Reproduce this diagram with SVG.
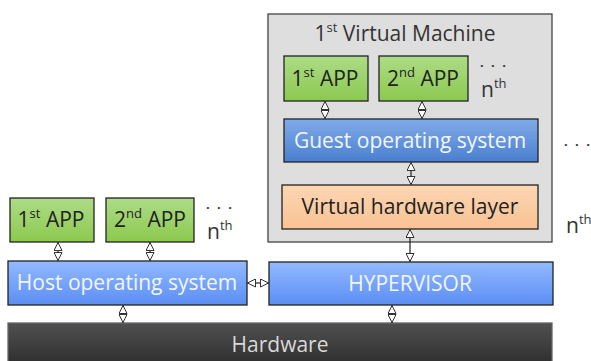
<svg xmlns="http://www.w3.org/2000/svg" width="591" height="361" viewBox="0 0 591 361">
<defs>
<linearGradient id="gGreen" x1="0" y1="0" x2="0" y2="1"><stop offset="0" stop-color="#addc87"/><stop offset="1" stop-color="#8cc94f"/></linearGradient>
<linearGradient id="gBlue" x1="0" y1="0" x2="0" y2="1"><stop offset="0" stop-color="#93b9ff"/><stop offset="1" stop-color="#5b8ef4"/></linearGradient>
<linearGradient id="gGuest" x1="0" y1="0" x2="0" y2="1"><stop offset="0" stop-color="#80abe8"/><stop offset="1" stop-color="#4a7fcf"/></linearGradient>
<linearGradient id="gPeach" x1="0" y1="0" x2="0" y2="1"><stop offset="0" stop-color="#fcd6b3"/><stop offset="1" stop-color="#f9c293"/></linearGradient>
<linearGradient id="gHw" x1="0" y1="0" x2="0" y2="1"><stop offset="0" stop-color="#505050"/><stop offset="1" stop-color="#2c2c2c"/></linearGradient>
<marker id="ah" viewBox="0 0 9 9" refX="9" refY="4.5" markerWidth="9" markerHeight="9" markerUnits="userSpaceOnUse" orient="auto-start-reverse">
<path d="M0.5,0.5 L8.5,4.5 L0.5,8.5 Z" fill="#fff" stroke="#333" stroke-width="1"/>
</marker>
</defs>
<style>
.box{stroke:#222;stroke-width:1.3}
text{font-family:"Open Sans","Liberation Sans",sans-serif}
.t{font-size:21px;text-anchor:middle}
.dark{fill:#222}
.light{fill:#f2f6ff}
.sup{font-size:13px}
.dots{font-size:13px;font-weight:bold;fill:#333;letter-spacing:2px}
.conn line{stroke:#222;stroke-width:1.2;marker-start:url(#ah);marker-end:url(#ah)}
</style>
<g id="vm">
<rect x="268" y="14" width="284" height="228" fill="#dedede" stroke="#444" stroke-width="1.3"/>
<text x="405" y="41" class="t" fill="#333">1<tspan class="sup" dy="-9">st</tspan><tspan dy="9"> Virtual Machine</tspan></text>
</g>
<g id="hardware">
<rect x="8" y="323" width="544" height="45" fill="url(#gHw)" stroke="#666" stroke-width="1.3"/>
<text x="280" y="352" class="t" fill="#d8d8d8">Hardware</text>
</g>
<g id="host-app1">
<rect x="10" y="198" width="84" height="44" class="box" fill="url(#gGreen)"/>
<text x="51" y="227" class="t dark">1<tspan class="sup" dy="-9">st</tspan><tspan dy="9"> APP</tspan></text>
</g>
<g id="host-app2">
<rect x="106" y="198" width="88" height="44" class="box" fill="url(#gGreen)"/>
<text x="150" y="227" class="t dark">2<tspan class="sup" dy="-9">nd</tspan><tspan dy="9"> APP</tspan></text>
</g>
<g id="host-nth">
<text x="206" y="209" class="dots">. . .</text>
<text x="207" y="239" font-size="21" fill="#333">n<tspan class="sup" dy="-9">th</tspan></text>
</g>
<g id="host-os">
<rect x="8" y="261" width="239" height="44" class="box" fill="url(#gBlue)"/>
<text x="127" y="290" class="t light">Host operating system</text>
</g>
<g id="hypervisor">
<rect x="269" y="262" width="284" height="43" class="box" fill="url(#gBlue)"/>
<text x="410" y="291" class="t light">HYPERVISOR</text>
</g>
<g id="vm-app1">
<rect x="284" y="56" width="84" height="45" class="box" fill="url(#gGreen)"/>
<text x="325" y="86" class="t dark">1<tspan class="sup" dy="-9">st</tspan><tspan dy="9"> APP</tspan></text>
</g>
<g id="vm-app2">
<rect x="379" y="56" width="89" height="45" class="box" fill="url(#gGreen)"/>
<text x="423" y="86" class="t dark">2<tspan class="sup" dy="-9">nd</tspan><tspan dy="9"> APP</tspan></text>
</g>
<g id="vm-nth">
<text x="480" y="67" class="dots">. . .</text>
<text x="481" y="97" font-size="21" fill="#333">n<tspan class="sup" dy="-9">th</tspan></text>
</g>
<g id="guest-os">
<rect x="284" y="119" width="254" height="43" class="box" fill="url(#gGuest)"/>
<text x="410" y="148" class="t light">Guest operating system</text>
</g>
<g id="vhl">
<rect x="282" y="185" width="256" height="44" class="box" fill="url(#gPeach)"/>
<text x="410" y="214" class="t dark">Virtual hardware layer</text>
</g>
<g id="vm-nth-outer">
<text x="564" y="146" class="dots">. . .</text>
<text x="566" y="233" font-size="21" fill="#333">n<tspan class="sup" dy="-9">th</tspan></text>
</g>
<g class="conn" id="connectors">
<line x1="58" y1="242" x2="58" y2="261"/>
<line x1="150" y1="242" x2="150" y2="261"/>
<line x1="123" y1="305" x2="123" y2="323"/>
<line x1="247" y1="283" x2="269" y2="283"/>
<line x1="392" y1="305" x2="392" y2="323"/>
<line x1="325" y1="101" x2="325" y2="119"/>
<line x1="422" y1="101" x2="422" y2="119"/>
<line x1="411" y1="162" x2="411" y2="185"/>
<line x1="410" y1="229" x2="410" y2="262"/>
</g>
</svg>
